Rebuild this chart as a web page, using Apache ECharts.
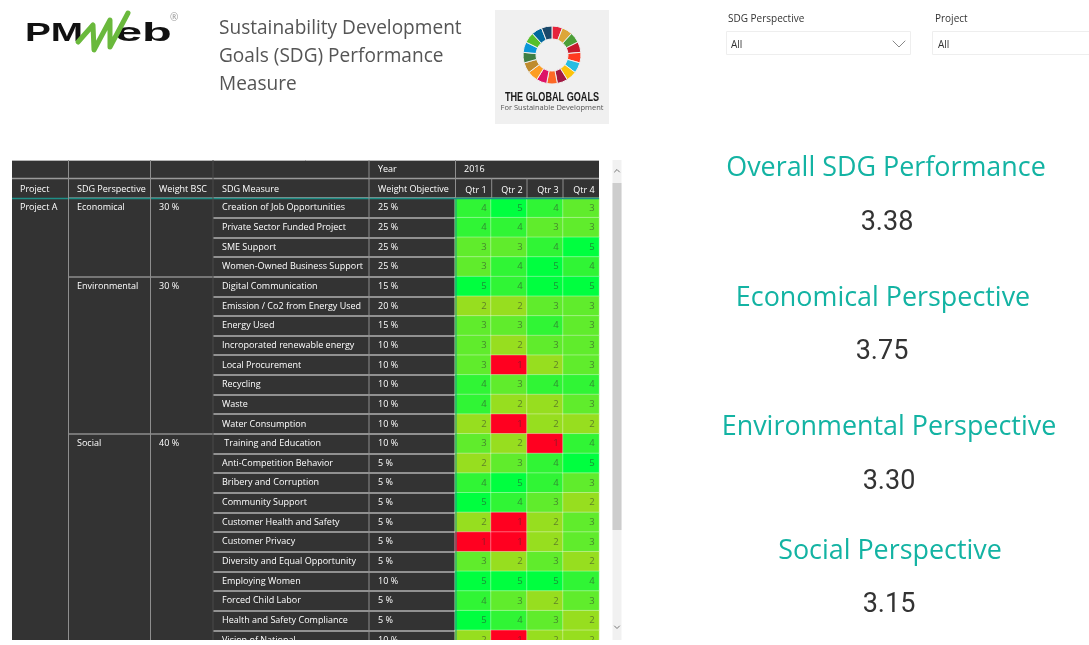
<!DOCTYPE html>
<html>
<head>
<meta charset="utf-8">
<style>html,body{margin:0;padding:0;background:#fff}#c{width:1089px;height:645px}</style>
<script src="https://cdn.jsdelivr.net/npm/echarts@6/dist/echarts.min.js"></script>
</head>
<body>
<div id="c"></div>
<script>
// ---------- data ----------
const quarters = ['Qtr 1', 'Qtr 2', 'Qtr 3', 'Qtr 4'];
const measures = ['Creation of Job Opportunities', 'Private Sector Funded Project', 'SME Support', 'Women-Owned Business Support',
  'Digital Communication', 'Emission / Co2 from Energy Used', 'Energy Used', 'Incroporated renewable energy',
  'Local Procurement', 'Recycling', 'Waste', 'Water Consumption',
  ' Training and Education', 'Anti-Competition Behavior', 'Bribery and Corruption', 'Community Support',
  'Customer Health and Safety', 'Customer Privacy', 'Diversity and Equal Opportunity', 'Employing Women',
  'Forced Child Labor', 'Health and Safety Compliance', 'Vision of National'];
const objectiveWeights = ['25 %', '25 %', '25 %', '25 %', '15 %', '20 %', '15 %', '10 %', '10 %', '10 %', '10 %', '10 %',
  '10 %', '5 %', '5 %', '5 %', '5 %', '5 %', '5 %', '10 %', '5 %', '5 %', '10 %'];
const qtr1 = [4, 4, 3, 3, 5, 2, 3, 3, 3, 4, 4, 2, 3, 2, 4, 5, 2, 1, 3, 5, 4, 5, 2];
const qtr2 = [5, 4, 3, 4, 4, 2, 3, 2, 1, 3, 2, 1, 2, 3, 5, 4, 1, 1, 2, 5, 3, 4, 1];
const qtr3 = [4, 3, 4, 5, 5, 3, 4, 3, 2, 4, 2, 2, 1, 4, 4, 3, 2, 2, 3, 5, 2, 3, 2];
const qtr4 = [3, 3, 5, 4, 5, 3, 3, 3, 3, 4, 3, 2, 4, 5, 3, 2, 3, 3, 2, 4, 3, 2, 2];
const project = 'Project A';
const perspectives = ['Economical', 'Environmental', 'Social'];
const bscWeights = ['30 %', '30 %', '40 %'];
const perspectiveStartRows = [0, 4, 12];
const kpiTitles = ['Overall SDG Performance', 'Economical Perspective', 'Environmental Perspective', 'Social Perspective'];
const kpiValues = ['3.38', '3.75', '3.30', '3.15'];
const titleLines = ['Sustainability Development', 'Goals (SDG) Performance', 'Measure'];
const sdgRingColors = ['#E5243B', '#DDA63A', '#4C9F38', '#C5192D', '#FF3A21', '#26BDE2', '#FCC30B', '#A21942', '#FD6925',
  '#DD1367', '#FD9D24', '#BF8B2E', '#3F7E44', '#0A97D9', '#56C02B', '#00689D', '#19486A'];

// ---------- layout and style ----------
const FONT = '"Open Sans","Noto Sans",sans-serif';
const ROW_H = 19.65, TOP = 198, HEAT_L = 455, HEAT_W = 144, DARK = '#333333';
const GRID_H = ROW_H * measures.length;
const TABLE_FS = 9, TABLE_W = 500;
const scoreColors = {1: '#ff0020', 2: '#97de1f', 3: '#60ec2c', 4: '#30f535', 5: '#00ff3f'};

const heatData = [];
[qtr1, qtr2, qtr3, qtr4].forEach((q, c) => q.forEach((v, r) => heatData.push([c, r, v])));
const sparse = list => measures.map((_, i) => {
  const k = perspectiveStartRows.indexOf(i);
  return k >= 0 ? list[k] : '';
});
const textAxis = (data, labelX) => ({
  type: 'category', inverse: true, gridIndex: 0, data, position: 'left', offset: HEAT_L - labelX,
  axisLine: {show: false}, axisTick: {show: false}, splitLine: {show: false},
  axisLabel: {interval: 0, margin: 0, align: 'left', color: '#ffffff', fontFamily: FONT, fontWeight: TABLE_W, fontSize: TABLE_FS, hideOverlap: false, padding: [2, 0, 0, 0]}
});
const ruleAxis = (gridIndex, interval, color) => ({
  type: 'category', inverse: true, gridIndex, data: measures,
  axisLine: {show: false}, axisTick: {show: false}, axisLabel: {show: false},
  splitLine: {show: true, interval, lineStyle: {color, width: 1.5}}
});
const hiddenX = gridIndex => ({type: 'value', gridIndex, min: 0, max: 1, show: false});

const txt = (text, x, y, font, fill, extra) => Object.assign({
  type: 'text', x, y, z: 20,
  style: {text, font, fill, textAlign: 'left', textVerticalAlign: 'middle'}
}, extra || {});
const ctxt = (text, x, y, font, fill, extra) => Object.assign({
  type: 'text', x, y, z: 20,
  style: {text, font, fill, textAlign: 'center', textVerticalAlign: 'middle'}
}, extra || {});
const rect = (x, y, w, h, fill, z, stroke) => ({
  type: 'rect', shape: {x, y, width: w, height: h}, z: z === undefined ? 1 : z,
  style: {fill, stroke: stroke || null, lineWidth: stroke ? 1 : 0}
});
const line = (x1, y1, x2, y2, stroke, w, z) => ({
  type: 'line', shape: {x1, y1, x2, y2}, z: z === undefined ? 12 : z, style: {stroke, lineWidth: w || 1}
});
const poly = (points, stroke, w, z) => ({
  type: 'polyline', shape: {points}, z: z === undefined ? 20 : z,
  style: {stroke, lineWidth: w, fill: null, lineJoin: 'round', lineCap: 'round'}
});

const hdrFont = TABLE_W + ' ' + TABLE_FS + 'px ' + FONT;
const kpiPos = [[886, 168.5, 887, 223.5], [883, 298.5, 882, 352.5], [889, 427.5, 889, 482.5], [890, 551.5, 889, 605.5]];

const elements = [
  // table shell
  rect(12, 160, 587, 480, DARK, -5),
  line(12, 160.5, 599, 160.5, '#b5b5b5', 1),
  line(12, 178.5, 599, 178.5, '#9a9a9a', 1.5),
  line(456, 198.5, 456, 640, '#1f8f87', 1),
  line(12, 198.5, 599, 198.5, '#1f8f87', 1.5),
  line(68.5, 160, 68.5, 640, '#8e8e8e', 1),
  line(150.5, 160, 150.5, 640, '#8e8e8e', 1),
  line(213, 160, 213, 640, '#4a4a4a', 1),
  line(369, 160, 369, 640, '#8e8e8e', 1),
  line(455.5, 160, 455.5, 198, '#8e8e8e', 1),
  line(491.7, 178, 491.7, 198, '#8e8e8e', 1),
  line(527, 178, 527, 198, '#8e8e8e', 1),
  line(563, 178, 563, 198, '#8e8e8e', 1),
  txt('Year', 378, 169, hdrFont, '#fff'),
  txt('2016', 464, 169, hdrFont, '#fff'),
  txt('Project', 20, 189.5, hdrFont, '#fff'),
  txt('SDG Perspective', 77, 189.5, hdrFont, '#fff'),
  txt('Weight BSC', 159, 189.5, hdrFont, '#fff'),
  txt('SDG Measure', 222, 189.5, hdrFont, '#fff'),
  txt('Weight Objective', 378, 189.5, hdrFont, '#fff'),
  // scrollbar
  rect(612.5, 160, 9, 480, '#f1f1f1', 1),
  rect(612.5, 183, 9, 347, '#cdcdcd', 2),
  poly([[614.5, 172], [617, 169.5], [619.5, 172]], '#777', 1, 3),
  poly([[614.5, 626], [617, 628.5], [619.5, 626]], '#777', 1, 3),
  // clip below the table
  rect(0, 640, 1089, 5, '#ffffff', 50),
  // PMWeb logo
  txt('PM', 25, 34, 'bold 25px "Liberation Sans",sans-serif', '#111', {scaleX: 1.55}),
  txt('eb', 115, 34, 'bold 25px "Liberation Sans",sans-serif', '#111', {scaleX: 1.95}),
  poly([[78, 42], [93, 25], [94, 50], [110, 20], [110, 47], [128, 13]], '#6ab93c', 5, 21),
  txt('®', 170, 18, '10px ' + FONT, '#999'),
  // report title
  ...titleLines.map((t, i) => txt(t, 219, 28 + i * 28, '20px ' + FONT, '#555', {scaleX: 0.953})),
  // global goals tile
  rect(495, 10, 114, 114, '#f0f0f0', -5),
  ctxt('THE GLOBAL GOALS', 552, 97, 'bold 13px "Liberation Sans",sans-serif', '#1a1a1a', {scaleX: 0.7}),
  ctxt('For Sustainable Development', 552, 108, '7.5px ' + FONT, '#555'),
  // slicers
  txt('SDG Perspective', 728, 19, '10px ' + FONT, '#333'),
  rect(726.5, 31.5, 184, 23, '#ffffff', 1, '#eeeeee'),
  txt('All', 731, 45, '10px ' + FONT, '#333'),
  poly([[893, 41], [899, 47], [905, 41]], '#888', 1, 3),
  txt('Project', 935, 19, '10px ' + FONT, '#333'),
  rect(932.5, 31.5, 160, 23, '#ffffff', 1, '#eeeeee'),
  txt('All', 938, 45, '10px ' + FONT, '#333')
];
kpiTitles.forEach((t, i) => {
  const [tx, ty, vx, vy] = kpiPos[i];
  elements.push(ctxt(t, tx, ty, '26.9px ' + FONT, '#13b3a3'));
  elements.push(ctxt(kpiValues[i], vx, vy, '27px Roboto,' + FONT, '#333'));
});

const boundsOff = {outerBoundsMode: 'none'};
const option = {
  animation: false,
  backgroundColor: '#fff',
  grid: [
    Object.assign({left: HEAT_L, top: TOP, width: HEAT_W, height: GRID_H}, boundsOff),
    Object.assign({left: 213, top: TOP, width: 242, height: GRID_H}, boundsOff),
    Object.assign({left: 68, top: TOP, width: 145, height: GRID_H}, boundsOff)
  ],
  xAxis: [
    {type: 'category', gridIndex: 0, data: quarters, position: 'top',
      axisLine: {show: false}, axisTick: {show: false}, splitLine: {show: false},
      axisLabel: {interval: 0, margin: 3, color: '#fff', fontFamily: FONT, fontWeight: TABLE_W, fontSize: TABLE_FS, padding: [0, 0, 0, 6]}},
    hiddenX(1), hiddenX(2)
  ],
  yAxis: [
    textAxis(measures, 222),
    textAxis(objectiveWeights, 378),
    textAxis(measures.map((_, i) => i === 0 ? project : ''), 20),
    textAxis(sparse(perspectives), 77),
    textAxis(sparse(bscWeights), 159),
    ruleAxis(1, 0, '#b2b2b2'),
    ruleAxis(2, i => perspectiveStartRows.includes(i), '#8e8e8e')
  ],
  visualMap: {
    show: false, type: 'piecewise', seriesIndex: 0, dimension: 2,
    pieces: Object.keys(scoreColors).map(k => ({value: +k, color: scoreColors[k]}))
  },
  series: [
    {
      type: 'heatmap', xAxisIndex: 0, yAxisIndex: 0, data: heatData,
      itemStyle: {borderColor: 'rgba(255,255,255,0.35)', borderWidth: 1},
      label: {show: true, position: 'insideRight', distance: 5, formatter: p => p.value[2],
        color: 'rgba(50,50,50,0.55)', fontFamily: FONT, fontSize: 9.5},
      emphasis: {disabled: true}
    },
    {
      type: 'pie', radius: [16, 29], center: [552, 55], startAngle: 90, silent: true,
      label: {show: false}, labelLine: {show: false},
      itemStyle: {borderColor: '#f0f0f0', borderWidth: 1},
      data: sdgRingColors.map((c, i) => ({value: 1, name: 'SDG ' + (i + 1), itemStyle: {color: c}}))
    }
  ],
  graphic: {elements}
};
echarts.init(document.getElementById('c')).setOption(option);
</script>
</body>
</html>
